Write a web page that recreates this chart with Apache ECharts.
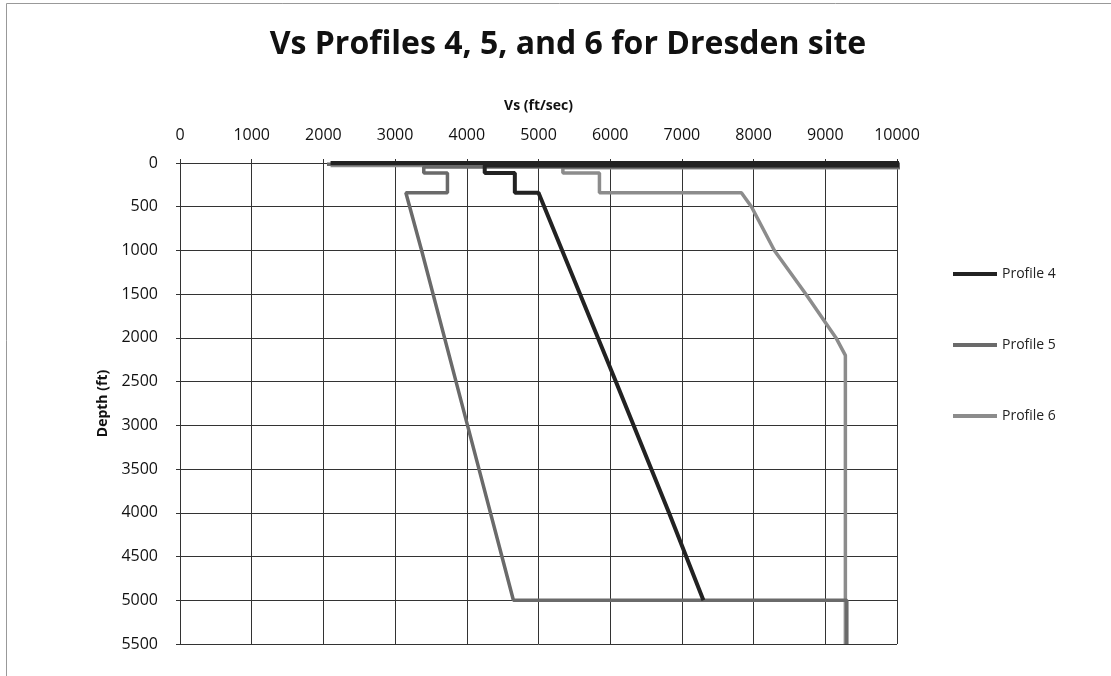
<!DOCTYPE html>
<html>
<head>
<meta charset="utf-8">
<script src="https://cdn.jsdelivr.net/npm/echarts@6/dist/echarts.min.js"></script>
<style>html,body{margin:0;padding:0;background:#fff}#c{width:1111px;height:676px}</style>
</head>
<body>
<div id="c"></div>
<script>
// Data: each point is [Vs (ft/sec), Depth (ft)]
const seriesNames = ['Profile 4', 'Profile 5', 'Profile 6'];
const profile4 = [
  [2100, 0], [10500, 0], [10500, 30], [4250, 30], [4250, 115], [4670, 115], [4670, 340], [5000, 340],
  [5330, 1000], [6080, 2500], [6820, 4000], [7300, 5000]
];
const profile5 = [
  [2050, 15], [10500, 15], [10500, 45], [3400, 45], [3400, 115], [3730, 115], [3730, 340], [3150, 340],
  [3370, 1000], [4010, 3000], [4650, 5000], [9300, 5000], [9300, 5500]
];
const profile6 = [
  [2100, 30], [10500, 30], [10500, 55], [5340, 55], [5340, 115], [5850, 115], [5850, 340], [7830, 340],
  [7970, 500], [8290, 1000], [8730, 1500], [9150, 2000], [9280, 2200], [9280, 5500]
];
const xTicks = [0, 10000, 1000];
const yTicks = [0, 5500, 500];

const chart = echarts.init(document.getElementById('c'));
const font = 'Open Sans';
const colors = ['#222222', '#6a6a6a', '#8c8c8c'];
const plain = v => String(v);
chart.setOption({
  animation: false,
  backgroundColor: '#fff',
  title: {
    text: 'Vs Profiles 4, 5, and 6 for Dresden site',
    left: 563, top: 24, textAlign: 'center',
    textStyle: { fontFamily: font, fontWeight: 'bold', fontSize: 32, color: '#111' }
  },
  graphic: [{
    type: 'rect', shape: { x: 6.5, y: 3.5, width: 1200, height: 800 },
    style: { fill: 'none', stroke: '#999', lineWidth: 1 }, silent: true
  }],
  legend: {
    orient: 'vertical', left: 948, top: 262, itemGap: 57,
    itemWidth: 44, itemHeight: 4, icon: 'rect',
    textStyle: { fontFamily: font, fontSize: 14, color: '#222' },
    data: seriesNames
  },
  grid: { left: 180, top: 163, width: 717, height: 481 },
  xAxis: {
    type: 'value', position: 'top', min: xTicks[0], max: xTicks[1], interval: xTicks[2],
    name: 'Vs (ft/sec)', nameLocation: 'middle', nameGap: 50,
    nameTextStyle: { fontFamily: font, fontWeight: 'bold', fontSize: 14, color: '#111' },
    axisLine: { show: true, lineStyle: { color: '#333', width: 1 } },
    axisTick: { show: true, length: 4, lineStyle: { color: '#333' } },
    axisLabel: { fontFamily: font, fontSize: 16, color: '#111', margin: 20, formatter: plain },
    splitLine: { show: true, lineStyle: { color: '#333', width: 1 } }
  },
  yAxis: {
    type: 'value', inverse: true, min: yTicks[0], max: yTicks[1], interval: yTicks[2],
    name: 'Depth (ft)', nameLocation: 'middle', nameGap: 70, nameRotate: 90,
    nameTextStyle: { fontFamily: font, fontWeight: 'bold', fontSize: 14, color: '#111' },
    axisLine: { show: true, lineStyle: { color: '#333', width: 1 } },
    axisTick: { show: true, length: 4, lineStyle: { color: '#333' } },
    axisLabel: { fontFamily: font, fontSize: 16, color: '#111', margin: 22, formatter: plain },
    splitLine: { show: true, lineStyle: { color: '#333', width: 1 } }
  },
  series: [
    { name: seriesNames[0], type: 'line', data: profile4, symbol: 'none', color: colors[0], lineStyle: { width: 4, color: colors[0] }, z: 4 },
    { name: seriesNames[1], type: 'line', data: profile5, symbol: 'none', color: colors[1], lineStyle: { width: 3.5, color: colors[1] }, z: 3 },
    { name: seriesNames[2], type: 'line', data: profile6, symbol: 'none', color: colors[2], lineStyle: { width: 3.5, color: colors[2] }, z: 2 }
  ]
});
</script>
</body>
</html>
